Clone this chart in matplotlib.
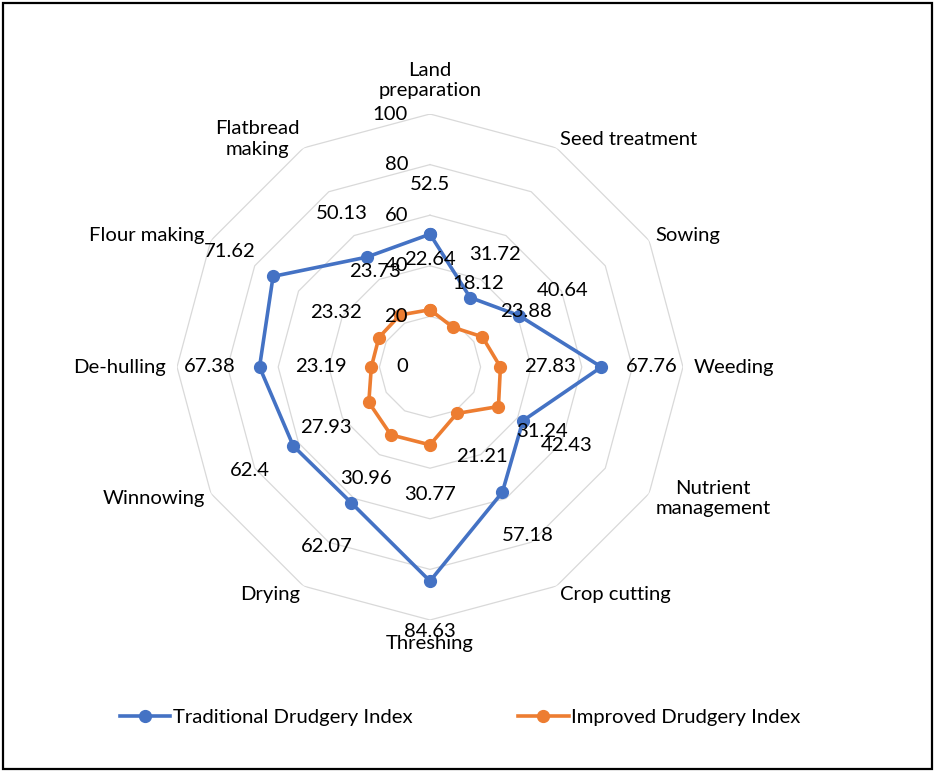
import numpy as np
import matplotlib
matplotlib.use("Agg")
import matplotlib.pyplot as plt
from matplotlib.patches import Rectangle

categories = ["Land\npreparation", "Seed treatment", "Sowing", "Weeding",
              "Nutrient\nmanagement", "Crop cutting", "Threshing", "Drying",
              "Winnowing", "De-hulling", "Flour making", "Flatbread\nmaking"]
traditional = [52.5, 31.72, 40.64, 67.76, 42.43, 57.18, 84.63, 62.07, 62.4, 67.38, 71.62, 50.13]
improved = [22.64, 18.12, 23.88, 27.83, 31.24, 21.21, 30.77, 30.96, 27.93, 23.19, 23.32, 23.73]
series_names = ["Traditional Drudgery Index", "Improved Drudgery Index"]
rings = [0, 20, 40, 60, 80, 100]

FONT = "Lato"
FS = 14.6
BLUE = "#4472C4"
ORANGE = "#ED7D31"
GRID = "#D9D9D9"

W, H = 935, 772
fig = plt.figure(figsize=(W / 100, H / 100), dpi=100)
cx, cy, R = 430, 367, 253
ax = fig.add_axes([(cx - R) / W, (H - cy - R) / H, 2 * R / W, 2 * R / H], projection="polar")
ax.set_theta_zero_location("N")
ax.set_theta_direction(-1)
ax.set_ylim(0, 100)
ax.grid(False)
ax.set_xticks([])
ax.set_yticks([])
ax.spines["polar"].set_visible(False)
ax.patch.set_alpha(0)

n = len(categories)
theta = np.linspace(0, 2 * np.pi, n, endpoint=False)
theta_c = np.append(theta, theta[0])

# polygon gridlines
for r in rings[1:]:
    ax.plot(theta_c, [r] * (n + 1), color=GRID, lw=0.9, zorder=1)

# tick labels
for r in rings:
    ax.annotate(str(r), xy=(0, r), xytext=(-22 if r else -28, 0), textcoords="offset pixels",
                ha="right" if r else "center", va="center", fontsize=FS, family=FONT,
                color="black", zorder=6)

lines = []
for vals, col, name in [(traditional, BLUE, series_names[0]), (improved, ORANGE, series_names[1])]:
    v = list(vals) + [vals[0]]
    ln, = ax.plot(theta_c, v, color=col, lw=2.6, marker="o", markersize=8.5, label=name, zorder=3)
    lines.append(ln)
    for t, val in zip(theta, vals):
        ax.annotate(f"{val:g}", xy=(t, val), xytext=(50 * np.sin(t), 50 * np.cos(t)),
                    textcoords="offset pixels", ha="center", va="center",
                    fontsize=FS, family=FONT, color="black", zorder=5,
                    annotation_clip=False)

# category labels
for i, (t, lab) in enumerate(zip(theta, categories)):
    s, c = np.sin(t), np.cos(t)
    if abs(s) < 1e-6:
        ha = "center"
        va = "bottom" if c > 0 else "top"
        pad = 15
    elif abs(c) < 1e-6:
        ha = "left" if s > 0 else "right"
        va = "center"
        pad = 11
    else:
        ha = "left" if s > 0 else "right"
        va = "center"
        pad = 7
    dy = pad * c + (3 * c if abs(s) > 1e-6 else 0)
    ax.annotate(lab, xy=(t, 100), xytext=(pad * s, dy), textcoords="offset pixels",
                ha=ha, va=va, multialignment="center", fontsize=FS, family=FONT,
                color="black", linespacing=1.25, annotation_clip=False)

fig.legend(handles=lines, loc="center", bbox_to_anchor=(460 / W, 55 / H), ncol=2,
           frameon=False, prop={"family": FONT, "size": FS}, handlelength=2.5,
           handletextpad=0.12, columnspacing=5.2)

fig.patches.append(Rectangle((3 / W, 3 / H), (W - 6) / W, (H - 6) / H, transform=fig.transFigure,
                             fill=False, edgecolor="black", lw=1.6))

fig.savefig("out.png", dpi=100)
